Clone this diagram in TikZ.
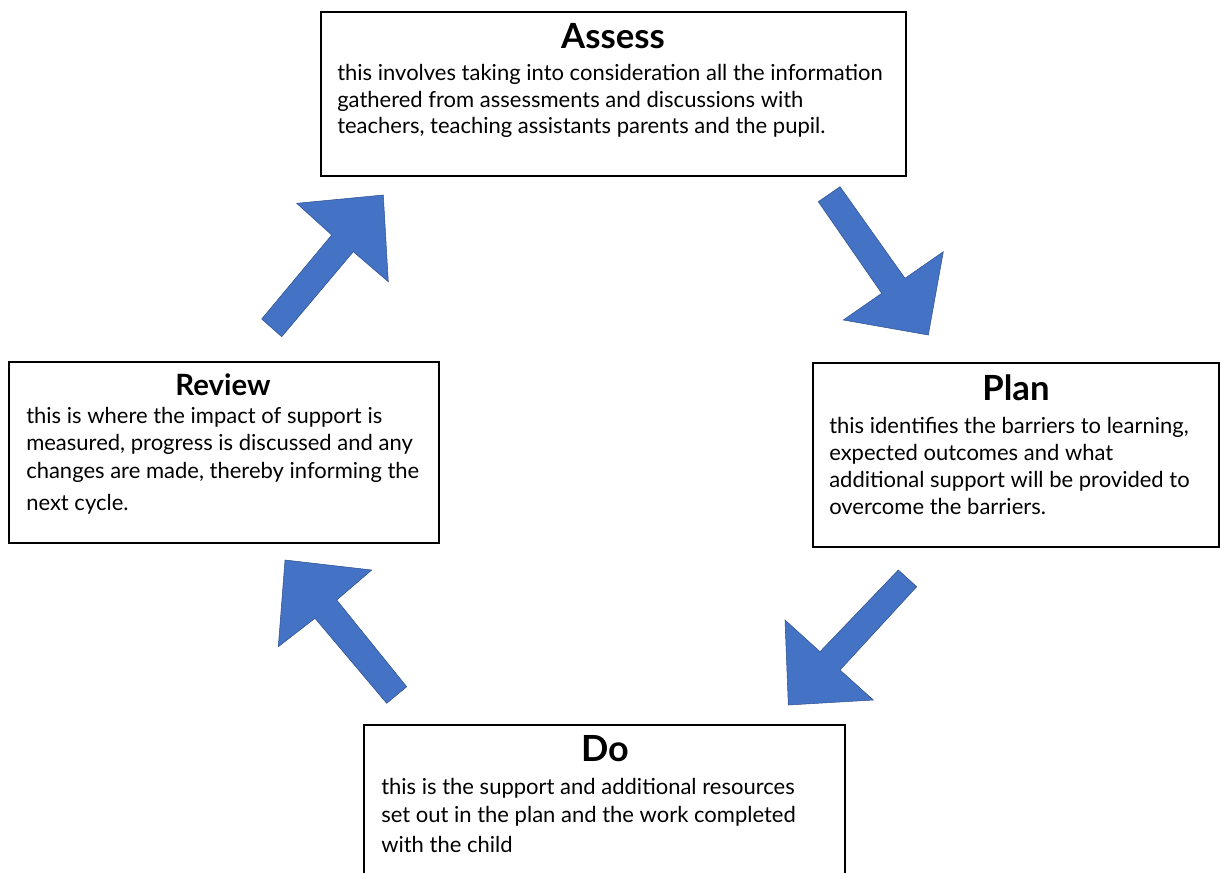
\documentclass[tikz,border=0pt]{standalone}
\usepackage{fontspec}
\setmainfont{Lato}
\usetikzlibrary{fit}
\definecolor{arrfill}{HTML}{4472C4}
\definecolor{arrline}{HTML}{2F528F}
\tikzset{
  box/.style={draw=black, line width=0.9pt, inner sep=0pt, fill=white},
  ttl/.style={font=\bfseries, anchor=center, inner sep=0pt},
  body/.style={anchor=north west, align=left, inner sep=0pt},
  blockarrow/.style={fill=arrfill, draw=arrline, line width=0.4pt, line join=miter}
}
\begin{document}
\begin{tikzpicture}[x=0.75pt,y=-0.75pt]
\useasboundingbox (0,0) rectangle (1220,872);
\clip (0,0) rectangle (1220,872);
% boxes
\node[box, fit={(321,12) (906,176)}] (assess) {};
\node[box, fit={(9,362) (439,543)}] (review) {};
\node[box, fit={(813,363) (1219,547)}] (plan) {};
\node[box, fit={(364,725) (845,900)}] (do) {};
% titles
\node[ttl, font=\bfseries\fontsize{26}{30}\selectfont] (assessT) at (613,36) {Assess};
\node[ttl, font=\bfseries\fontsize{22}{26}\selectfont] (reviewT) at (223,385) {Review};
\node[ttl, font=\bfseries\fontsize{26}{30}\selectfont] (planT) at (1016,388) {Plan};
\node[ttl, font=\bfseries\fontsize{27}{30}\selectfont] (doT) at (605,749) {Do};
% bodies
\node[body, font=\fontsize{16.5}{20}\selectfont] (assessB) at (337,64) {this involves taking into consideration all the information\\gathered from assessments and discussions with\\teachers, teaching assistants parents and the pupil.};
\node[body, font=\fontsize{16.5}{20.5}\selectfont] (reviewB) at (26,407) {this is where the impact of support is\\measured, progress is discussed and any\\changes are made, thereby informing the\\[3.5pt]next cycle.};
\node[body, font=\fontsize{16.5}{20.25}\selectfont] (planB) at (829,417) {this identifies the barriers to learning,\\expected outcomes and what\\additional support will be provided to\\overcome the barriers.};
\node[body, font=\fontsize{16.5}{21}\selectfont] (doB) at (381,778) {this is the support and additional resources\\set out in the plan and the work completed\\[1.5pt]with the child};
% block arrows
\draw[blockarrow] (261.7,319) -- (331.7,235) -- (296.7,203.3) -- (383.3,195) -- (388.3,281.7) -- (353.3,251.7) -- (281.7,336.7) -- cycle;
\draw[blockarrow] (840,186.7) -- (905,278.3) -- (943.3,251.7) -- (928.3,335) -- (843.3,320) -- (881.7,293.3) -- (818.3,201.7) -- cycle;
\draw[blockarrow] (898.3,570) -- (916.7,586.7) -- (840,670) -- (873.3,700) -- (788.3,705) -- (785,620) -- (820,651.7) -- cycle;
\draw[blockarrow] (406.7,686.7) -- (386.7,703.3) -- (315,618.3) -- (278.3,646.7) -- (285,560) -- (371.7,570) -- (336.7,600) -- cycle;
\end{tikzpicture}
\end{document}
